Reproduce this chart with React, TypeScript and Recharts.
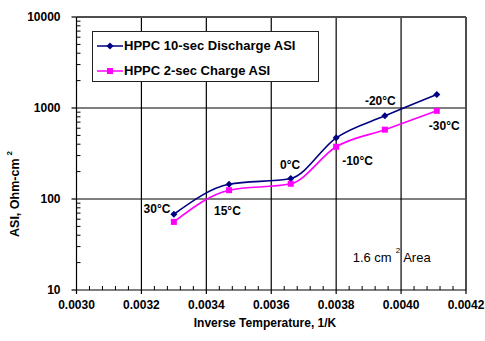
import { LineChart, Line, XAxis, YAxis, ReferenceLine, ReferenceDot, Legend, Label } from 'recharts'

// inverse temperature (1/K) of each test point
const invTemp = [0.0033, 0.00347, 0.00366, 0.0038, 0.00395, 0.00411]
const dischargeAsi = [68, 145, 168, 470, 820, 1410]
const chargeAsi = [56, 125, 147, 375, 578, 930]

const xMajor = [0.003, 0.0032, 0.0034, 0.0036, 0.0038, 0.004, 0.0042]
const yMajor = [10, 100, 1000, 10000]
const xGrid = [0.0032, 0.0034, 0.0036, 0.0038, 0.004]
const yGrid = [100, 1000]

// temperature callouts, placed in data coordinates
const tempLabels = ['30°C', '15°C', '0°C', '-10°C', '-20°C', '-30°C']
const tempLabelX = [0.003248, 0.003465, 0.003658, 0.003866, 0.003936, 0.004133]
const tempLabelY = [77.6, 73.8, 236, 262, 1194, 634]

const FONT = '"Liberation Sans", Arial, sans-serif'
const NAVY = '#000080'
const MAGENTA = '#FF00FF'

const xMinor: number[] = []
for (let i = 0; i <= 30; i++) xMinor.push(Number((0.003 + i * 0.00004).toFixed(5)))
const yMinor: number[] = []
for (const d of [10, 100, 1000]) for (let m = 2; m <= 9; m++) yMinor.push(m * d)

const xTicks = Array.from(new Set([...xMinor, ...xMajor])).sort((a, b) => a - b)
const yTicks = [...yMajor, ...yMinor].sort((a, b) => a - b)

const rows = invTemp.map((x, i) => ({ x, discharge: dischargeAsi[i], charge: chargeAsi[i] }))

const isXMajor = (v: number) => xMajor.some(t => Math.abs(t - v) < 1e-7)

const XTick = ({ x, y, payload }: any) =>
  isXMajor(payload.value) ? (
    <g>
      <line x1={x} x2={x} y1={y} y2={y + 4} stroke="#000" strokeWidth={1.2} />
      <text x={x} y={y + 19} textAnchor="middle" fontSize={12} fontWeight="bold" fill="#000">
        {payload.value.toFixed(4)}
      </text>
    </g>
  ) : (
    <line x1={x} x2={x} y1={y} y2={y - 4} stroke="#000" strokeWidth={1} />
  )

const YTick = ({ x, y, payload }: any) =>
  yMajor.includes(payload.value) ? (
    <g>
      <line x1={x - 5} x2={x} y1={y} y2={y} stroke="#000" strokeWidth={1.2} />
      <text x={x - 16} y={y + 4} textAnchor="end" fontSize={12} fontWeight="bold" fill="#000">
        {payload.value}
      </text>
    </g>
  ) : (
    <line x1={x} x2={x + 4} y1={y} y2={y} stroke="#000" strokeWidth={1} />
  )

const Diamond = ({ cx, cy }: any) => (
  <path d={`M${cx},${cy - 3.5}L${cx + 3.5},${cy}L${cx},${cy + 3.5}L${cx - 3.5},${cy}Z`} fill={NAVY} />
)
const Square = ({ cx, cy }: any) => <rect x={cx - 3} y={cy - 3} width={6} height={6} fill={MAGENTA} />

const legendItems = [
  { name: 'HPPC 10-sec Discharge ASI', color: NAVY, marker: 'diamond' },
  { name: 'HPPC 2-sec Charge ASI', color: MAGENTA, marker: 'square' },
]

const LegendBox = () => (
  <div
    style={{
      width: 227,
      height: 51,
      border: '1px solid #222',
      background: '#fff',
      boxSizing: 'border-box',
      paddingTop: 1,
      fontFamily: FONT,
      fontSize: 13,
      fontWeight: 'bold',
      color: '#000',
    }}
  >
    {legendItems.map(item => (
      <div key={item.name} style={{ display: 'flex', alignItems: 'center', height: 25 }}>
        <svg width={31} height={12} style={{ marginLeft: 4 }}>
          <line x1={0} x2={26} y1={6} y2={6} stroke={item.color} strokeWidth={1.5} />
          {item.marker === 'diamond' ? (
            <path d="M13,2.5L16.5,6L13,9.5L9.5,6Z" fill={item.color} />
          ) : (
            <rect x={10} y={3} width={6} height={6} fill={item.color} />
          )}
        </svg>
        <span style={{ marginLeft: -4 }}>{item.name}</span>
      </div>
    ))}
  </div>
)

export default function App() {
  return (
    <div style={{ position: 'absolute', left: 0, top: 0, background: '#fff' }}>
      <LineChart
        width={485}
        height={341}
        data={rows}
        margin={{ top: 17, right: 19, bottom: 0, left: 16.5 }}
        style={{ fontFamily: FONT }}
      >
        {yGrid.map(v => (
          <ReferenceLine key={'h' + v} y={v} stroke="#000" strokeWidth={1.2} />
        ))}
        {xGrid.map(v => (
          <ReferenceLine key={'v' + v} x={v} stroke="#000" strokeWidth={1.2} />
        ))}
        <ReferenceLine y={10000} stroke="#4d4d4d" strokeWidth={2} />
        <ReferenceLine x={0.0042} stroke="#4d4d4d" strokeWidth={2} />
        <XAxis
          type="number"
          dataKey="x"
          domain={[0.003, 0.0042]}
          ticks={xTicks}
          interval={0}
          tickSize={0}
          tickMargin={0}
          tickLine={false}
          tick={<XTick />}
          axisLine={{ stroke: '#000', strokeWidth: 1.2 }}
          height={51}
        >
          <Label
            content={() => (
              <text x={265} y={327} textAnchor="middle" fontSize={12} fontWeight="bold" fill="#000">
                Inverse Temperature, 1/K
              </text>
            )}
          />
        </XAxis>
        <YAxis
          scale="log"
          domain={[10, 10000]}
          ticks={yTicks}
          interval={0}
          tickSize={0}
          tickMargin={0}
          tickLine={false}
          tick={<YTick />}
          axisLine={{ stroke: '#000', strokeWidth: 1.2 }}
          width={60}
          allowDataOverflow
        >
          <Label
            content={() => (
              <text transform="translate(19,194) rotate(-90)" textAnchor="middle" fontSize={12.5} fontWeight="bold" fill="#000">
                ASI, Ohm-cm
                <tspan dx={3} dy={-7} fontSize={8}>2</tspan>
              </text>
            )}
          />
        </YAxis>
        <Legend
          layout="vertical"
          align="center"
          verticalAlign="middle"
          content={<LegendBox />}
          wrapperStyle={{ left: 92, top: 31, width: 227 }}
        />
        <Line
          type="monotone"
          dataKey="discharge"
          name="HPPC 10-sec Discharge ASI"
          stroke={NAVY}
          strokeWidth={1.6}
          dot={<Diamond />}
          activeDot={false}
          isAnimationActive={false}
        />
        <Line
          type="monotone"
          dataKey="charge"
          name="HPPC 2-sec Charge ASI"
          stroke={MAGENTA}
          strokeWidth={1.6}
          dot={<Square />}
          activeDot={false}
          isAnimationActive={false}
        />
        {tempLabels.map((t, i) => (
          <ReferenceDot
            key={t}
            x={tempLabelX[i]}
            y={tempLabelY[i]}
            r={0}
            fill="none"
            stroke="none"
            label={{ value: t, position: 'center', fontSize: 12, fontWeight: 'bold', fill: '#000' }}
          />
        ))}
        <ReferenceDot
          x={0.003971}
          y={22.5}
          r={0}
          fill="none"
          stroke="none"
          label={{
            content: ({ viewBox }: any) => (
              <text x={viewBox.x} y={viewBox.y + 4.5} textAnchor="middle" fontSize={13} fill="#000">
                1.6 cm
                <tspan dx={4} dy={-9} fontSize={8}>2</tspan>
                <tspan dx={3} dy={9}>Area</tspan>
              </text>
            ),
          }}
        />
      </LineChart>
    </div>
  )
}
